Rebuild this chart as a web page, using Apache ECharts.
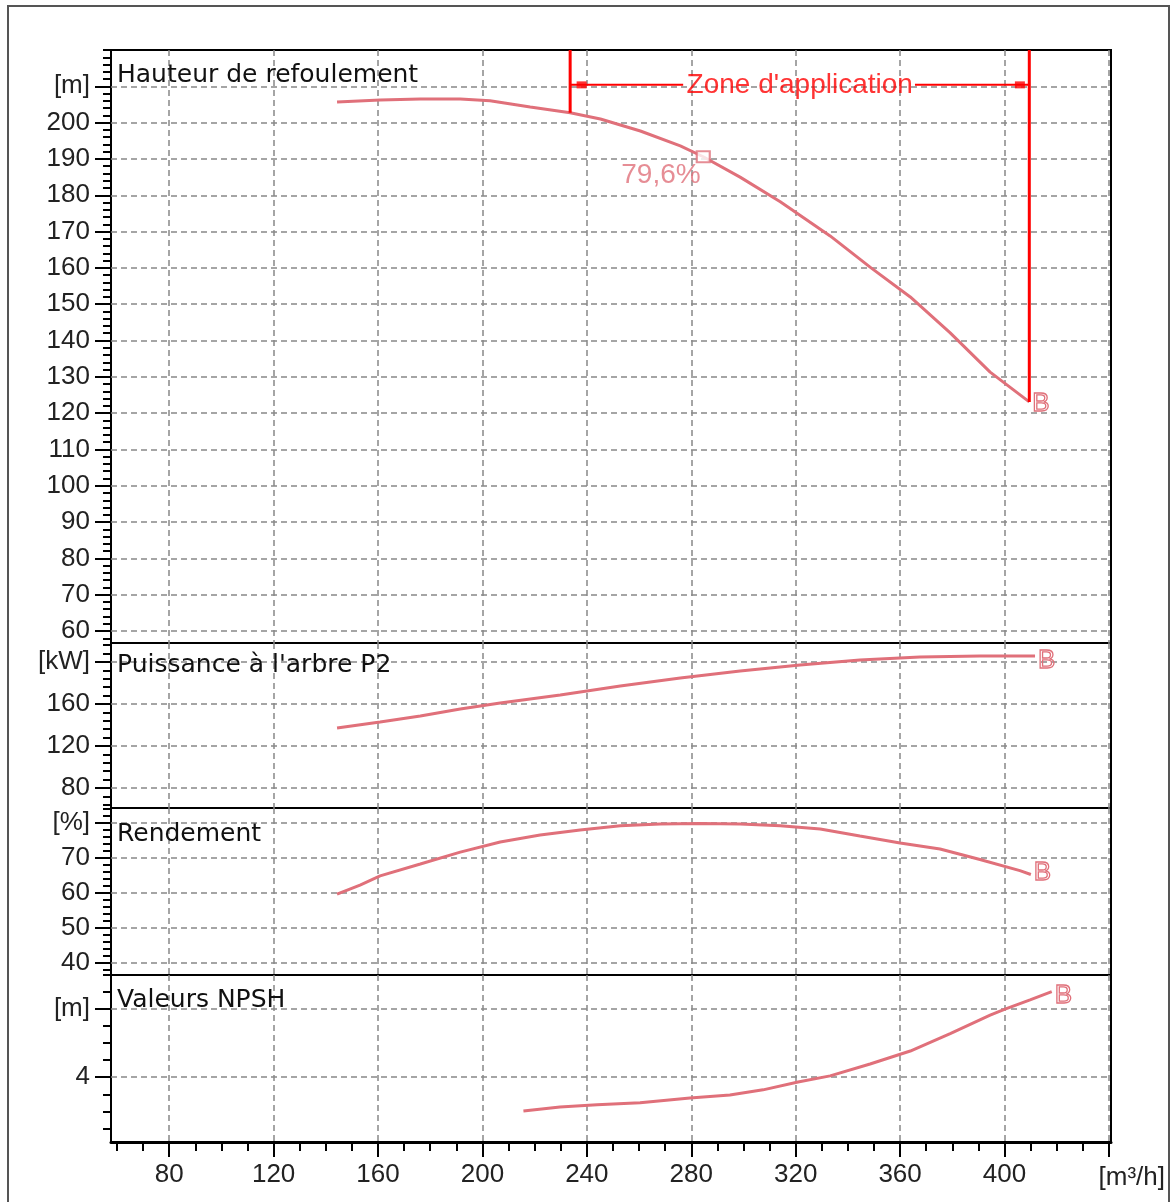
<!DOCTYPE html>
<html>
<head>
<meta charset="utf-8">
<script src="https://cdn.jsdelivr.net/npm/echarts@6/dist/echarts.min.js"></script>
<style>
html, body { margin: 0; padding: 0; background: #fff; }
#chart { width: 1170px; height: 1202px; }
</style>
</head>
<body>
<div id="chart"></div>
<script>
// debit Q [m3/h]
var qRange = [57.7, 440.8];
var qMajor = [80, 120, 160, 200, 240, 280, 320, 360, 400, 440];
var qLabels = [80, 120, 160, 200, 240, 280, 320, 360, 400];

// hauteur de refoulement [m]
var headQ = [144.3, 160.8, 176.2, 191.5, 202.9, 218.3, 233.6, 245.2, 260.5, 275.8, 284.6, 298.7, 314.1, 333.2, 348.5, 363.9, 379.2, 394.5, 409.5];
var headH = [205.7, 206.2, 206.5, 206.5, 206.0, 204.3, 202.7, 201.0, 197.7, 193.6, 190.6, 185.0, 178.2, 168.8, 160.2, 152.0, 142.1, 131.3, 123.1];
var headRange = [56.7, 220];
var headTicks = [60, 70, 80, 90, 100, 110, 120, 130, 140, 150, 160, 170, 180, 190, 200, 210];

// puissance P2 [kW]
var powerQ = [144.3, 160.8, 176.2, 191.5, 206.8, 229.8, 252.8, 275.8, 298.7, 321.7, 344.6, 367.6, 390.6, 411.7];
var powerP = [137.1, 142.9, 148.6, 155.2, 161.0, 168.6, 177.1, 184.8, 191.4, 197.1, 201.9, 204.8, 205.7, 205.7];
var powerRange = [61, 218.1];
var powerTicks = [80, 120, 160, 200];

// rendement [%]
var effQ = [144.3, 153.1, 160.8, 176.2, 191.5, 206.8, 222.1, 237.4, 252.8, 268.1, 283.4, 298.7, 314.1, 329.4, 344.6, 360.0, 375.3, 390.6, 405.9, 410.1];
var effE = [59.7, 62.3, 64.9, 68.3, 71.7, 74.6, 76.6, 78.0, 79.2, 79.7, 79.9, 79.7, 79.2, 78.3, 76.3, 74.3, 72.6, 69.6, 66.4, 65.3];
var effRange = [36.6, 84.3];
var effTicks = [40, 50, 60, 70, 80];

// NPSH [m]
var npshQ = [215.7, 229.7, 243.9, 260.4, 279.5, 294.8, 307.5, 320.9, 333.2, 348.5, 363.9, 379.2, 394.5, 400.2, 409.8, 418.1];
var npshN = [3.01, 3.13, 3.19, 3.25, 3.39, 3.48, 3.63, 3.86, 4.04, 4.39, 4.77, 5.28, 5.82, 6.0, 6.27, 6.51];
var npshRange = [2.1, 7.0];
var npshTicks = [4, 6];

// zone d'application et point de meilleur rendement
var zoneQ = [233.6, 409.5];
var zoneBottomH = [202.7, 123.1];
var zoneArrowH = 210.4;
var zoneGapQ = [276.9, 365.7];
var zoneArrowQ = [238.0, 405.9];
var bepPoint = [284.6, 190.6];
var bepLabel = '79,6%';

var pink = '#e0707a';
var red = '#ff0000';
var numFont = 'Liberation Sans';

function steps(from, to, step) {
    var out = [];
    for (var v = from; v <= to + 1e-9; v += step) out.push(Math.round(v * 100) / 100);
    return out;
}

var tops = [50, 643, 808, 975];
var heights = [593, 165, 167, 167];
var yRanges = [headRange, powerRange, effRange, npshRange];
var yMajor = [headTicks, powerTicks, effTicks, npshTicks];
var yMinor = [steps(58, 220, 2), steps(64, 216, 8), steps(38, 84, 2), steps(2.5, 7, 0.5)];
var yUnits = [[210, '[m]'], [200, '[kW]'], [80, '[%]'], [6, '[m]']];

var dashed = { color: '#888', width: 1.5, type: [6, 4] };

var grids = [], xAxes = [], yAxes = [];
for (var i = 0; i < 4; i++) {
    grids.push({
        left: 111, width: 1000, top: tops[i], height: heights[i],
        show: true, borderColor: '#000', borderWidth: 2,
        outerBoundsMode: 'none'
    });
    xAxes.push({
        type: 'value', gridIndex: i, position: 'bottom',
        min: qRange[0], max: qRange[1],
        axisLine: { show: i === 3, lineStyle: { color: '#000', width: 3 } },
        axisTick: { show: i === 3, customValues: qMajor, length: 15, lineStyle: { color: '#000', width: 2 } },
        axisLabel: { show: i === 3, customValues: qLabels, margin: 20, fontSize: 26, fontFamily: numFont, color: '#222' },
        splitLine: { show: true, lineStyle: dashed }
    });
    (function (unit) {
        yAxes.push({
            type: 'value', gridIndex: i, position: 'left',
            min: yRanges[i][0], max: yRanges[i][1],
            axisLine: { show: false },
            axisTick: { show: true, customValues: yMajor[i], length: 16, lineStyle: { color: '#000', width: 2 } },
            axisLabel: {
                customValues: yMajor[i], margin: 21, fontSize: 26, fontFamily: numFont, color: '#222',
                formatter: function (v) { return Math.abs(v - unit[0]) < 1e-6 ? unit[1] : String(v); }
            },
            splitLine: { show: true, lineStyle: dashed }
        });
    })(yUnits[i]);
}
// petites graduations
for (var j = 0; j < 4; j++) {
    yAxes.push({
        type: 'value', gridIndex: j, position: 'left',
        min: yRanges[j][0], max: yRanges[j][1],
        axisLine: { show: false },
        axisTick: { show: true, customValues: yMinor[j], length: 8, lineStyle: { color: '#000', width: 2 } },
        axisLabel: { show: false },
        splitLine: { show: false }
    });
}
xAxes.push({
    type: 'value', gridIndex: 3, position: 'bottom',
    min: qRange[0], max: qRange[1],
    axisLine: { show: false },
    axisTick: { show: true, customValues: steps(60, 440, 10), length: 9, lineStyle: { color: '#000', width: 2 } },
    axisLabel: { show: false },
    splitLine: { show: false }
});

function pairs(xs, ys) {
    return xs.map(function (x, k) { return [x, ys[k]]; });
}

function curve(i, xs, ys, dy) {
    return {
        type: 'line', xAxisIndex: i, yAxisIndex: i,
        data: pairs(xs, ys), symbol: 'none', silent: true, z: 4,
        lineStyle: { color: pink, width: 3 },
        endLabel: {
            show: true, formatter: 'B', distance: 3, offset: [0, dy],
            fontFamily: numFont, fontSize: 26, color: 'rgba(255,255,255,0)',
            textBorderColor: pink, textBorderWidth: 1.3
        }
    };
}

function redLine(pts, w) {
    return {
        type: 'line', xAxisIndex: 0, yAxisIndex: 0, data: pts, symbol: 'none',
        silent: true, z: 5, lineStyle: { color: red, width: w }
    };
}

var series = [
    curve(0, headQ, headH, 2),
    curve(1, powerQ, powerP, 5),
    curve(2, effQ, effE, -2),
    curve(3, npshQ, npshN, 4),
    redLine([[zoneQ[0], headRange[1]], [zoneQ[0], zoneBottomH[0]]], 3),
    redLine([[zoneQ[1], headRange[1]], [zoneQ[1], zoneBottomH[1]]], 3),
    redLine([[zoneQ[0], zoneArrowH], [zoneGapQ[0], zoneArrowH]], 2),
    redLine([[zoneGapQ[1], zoneArrowH], [zoneQ[1], zoneArrowH]], 2),
    {
        type: 'scatter', xAxisIndex: 0, yAxisIndex: 0, silent: true, z: 5,
        data: zoneArrowQ.map(function (q) { return [q, zoneArrowH]; }),
        symbol: 'rect', symbolSize: [10, 7], itemStyle: { color: red }
    },
    {
        type: 'scatter', xAxisIndex: 0, yAxisIndex: 0, silent: true, z: 5,
        data: [[(zoneQ[0] + zoneQ[1]) / 2, zoneArrowH]],
        symbolSize: 1, itemStyle: { color: 'rgba(0,0,0,0)' },
        label: {
            show: true, position: 'inside', formatter: "Zone d'application",
            fontFamily: numFont, fontSize: 28, color: red
        }
    },
    {
        type: 'scatter', xAxisIndex: 0, yAxisIndex: 0, silent: true, z: 6,
        data: [bepPoint], symbol: 'rect', symbolSize: [13, 11],
        itemStyle: { color: '#fff', borderColor: pink, borderWidth: 2 },
        label: {
            show: true, formatter: bepLabel, position: [5, 25], align: 'right', verticalAlign: 'middle',
            fontFamily: numFont, fontSize: 28, color: pink
        }
    }
];

var titleFont = '25px "DejaVu Sans"';
function title(text, y) {
    return { type: 'text', x: 117, y: y, z: 10, style: { text: text, font: titleFont, fill: '#111', verticalAlign: 'middle' } };
}

var chart = echarts.init(document.getElementById('chart'));
chart.setOption({
    animation: false,
    backgroundColor: '#fff',
    grid: grids,
    xAxis: xAxes,
    yAxis: yAxes,
    series: series,
    graphic: [
        { type: 'rect', shape: { x: 8, y: 6, width: 1161, height: 1230 }, style: { fill: 'none', stroke: '#555', lineWidth: 2 }, z: 0 },
        title('Hauteur de refoulement', 75),
        title("Puissance à l'arbre P2", 665),
        title('Rendement', 834),
        title('Valeurs NPSH', 1000),
        { type: 'text', x: 1165, y: 1178, z: 10, style: { text: '[m³/h]', font: '26px "Liberation Sans"', fill: '#222', align: 'right', verticalAlign: 'middle' } }
    ]
});
</script>
</body>
</html>
